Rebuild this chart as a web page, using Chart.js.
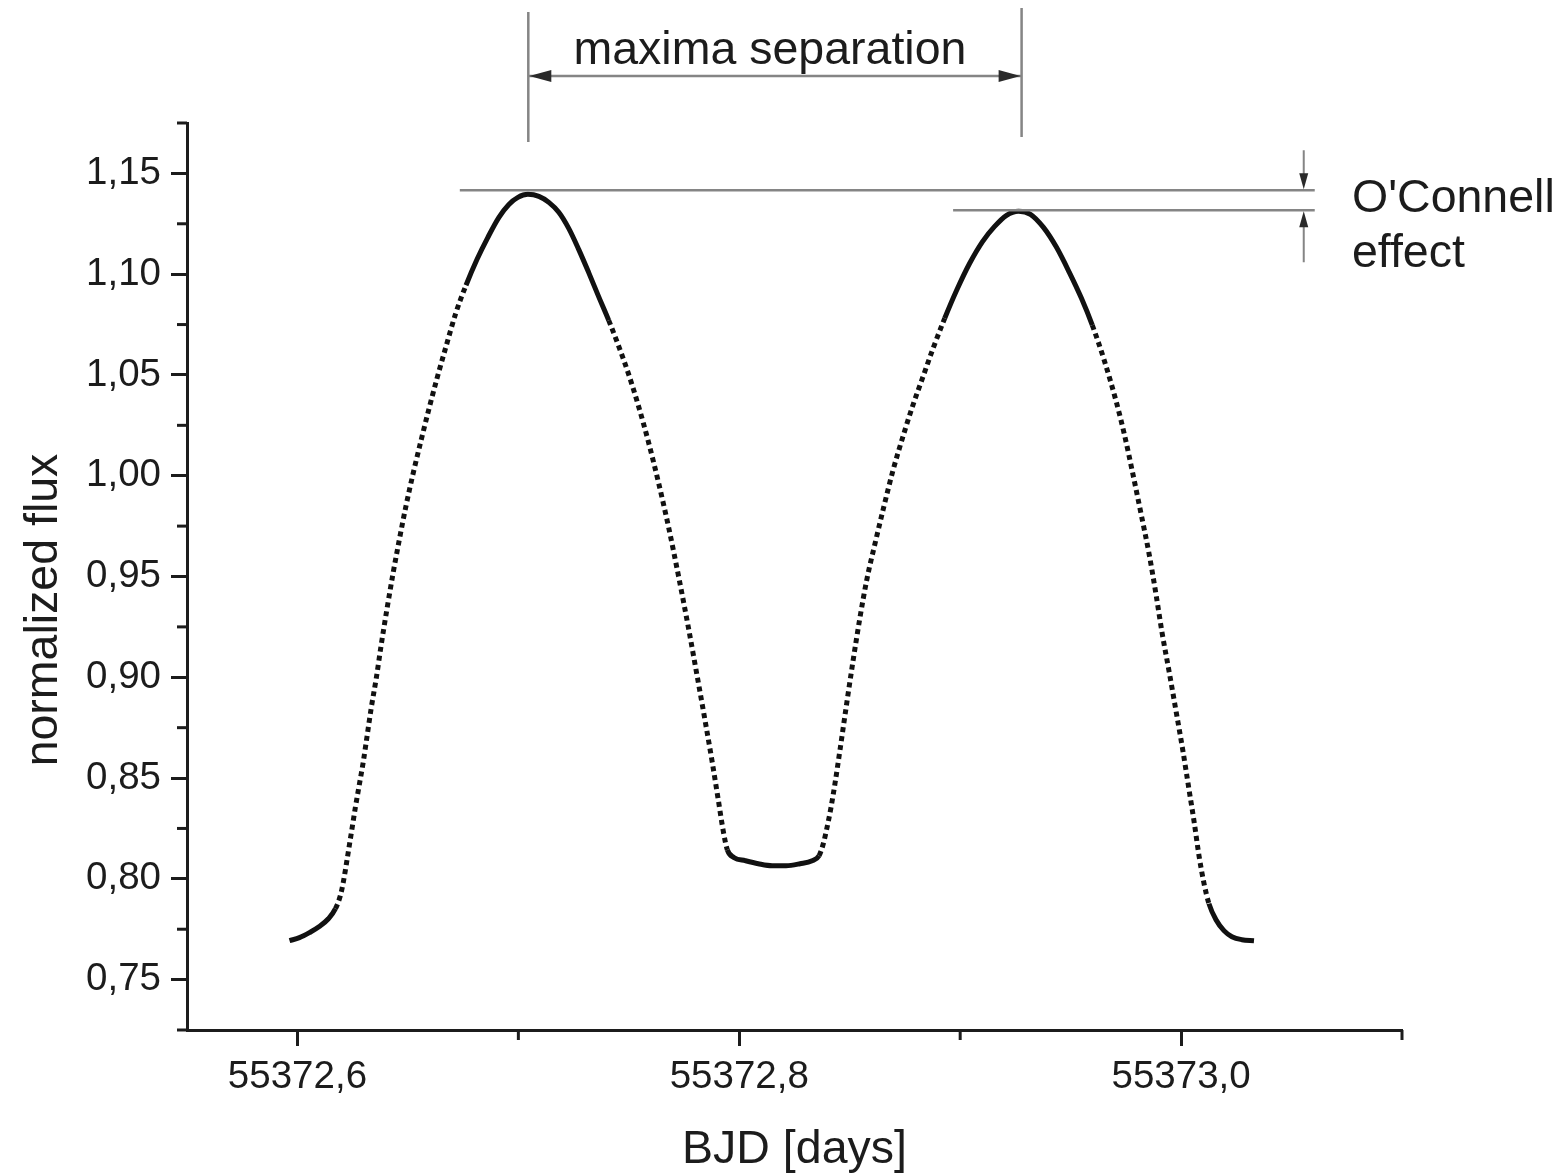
<!DOCTYPE html>
<html>
<head>
<meta charset="utf-8">
<script src="https://cdn.jsdelivr.net/npm/chart.js@4.4.1/dist/chart.umd.min.js"></script>
<style>
  body { margin: 0; background: #fff; }
  #wrap { width: 1563px; height: 1175px; }
</style>
</head>
<body>
<div id="wrap"><canvas id="grafica"></canvas></div>
<script>
// light curve: BJD [days] vs normalized flux
const bjd = [
  55372.5964, 55372.6009, 55372.6054, 55372.6099, 55372.6140, 55372.6172, 55372.6194, 55372.6208,
  55372.6226, 55372.6244, 55372.6262, 55372.6280, 55372.6298, 55372.6316, 55372.6334, 55372.6357,
  55372.6379, 55372.6406, 55372.6433, 55372.6460, 55372.6492, 55372.6524, 55372.6560, 55372.6596,
  55372.6632, 55372.6673, 55372.6718, 55372.6763, 55372.6813, 55372.6862, 55372.6912, 55372.6957,
  55372.6998, 55372.7043, 55372.7093, 55372.7138, 55372.7183, 55372.7228, 55372.7273, 55372.7318,
  55372.7363, 55372.7409, 55372.7454, 55372.7499, 55372.7544, 55372.7589, 55372.7634, 55372.7679,
  55372.7725, 55372.7770, 55372.7810, 55372.7847, 55372.7878, 55372.7905, 55372.7928, 55372.7946,
  55372.7977, 55372.8027, 55372.8086, 55372.8149, 55372.8212, 55372.8275, 55372.8330, 55372.8361,
  55372.8379, 55372.8397, 55372.8415, 55372.8433, 55372.8456, 55372.8488, 55372.8515, 55372.8546,
  55372.8578, 55372.8614, 55372.8655, 55372.8695, 55372.8740, 55372.8786, 55372.8831, 55372.8876,
  55372.8930, 55372.8984, 55372.9043, 55372.9102, 55372.9156, 55372.9210, 55372.9264, 55372.9318,
  55372.9377, 55372.9436, 55372.9494, 55372.9549, 55372.9598, 55372.9652, 55372.9707, 55372.9743,
  55372.9779, 55372.9819, 55372.9856, 55372.9887, 55372.9914, 55372.9946, 55372.9977, 55373.0009,
  55373.0036, 55373.0059, 55373.0081, 55373.0104, 55373.0126, 55373.0158, 55373.0194, 55373.0230,
  55373.0275, 55373.0330
];
const flux = [
  0.7693, 0.7708, 0.7733, 0.7763, 0.7802, 0.7852, 0.7916, 0.7986,
  0.8105, 0.8229, 0.8353, 0.8467, 0.8581, 0.8714, 0.8848, 0.8997,
  0.9160, 0.9344, 0.9517, 0.9676, 0.9854, 1.0013, 1.0177, 1.0335,
  1.0484, 1.0643, 1.0811, 1.0945, 1.1074, 1.1183, 1.1282, 1.1346,
  1.1381, 1.1396, 1.1386, 1.1356, 1.1307, 1.1227, 1.1123, 1.1009,
  1.0890, 1.0771, 1.0643, 1.0504, 1.0345, 1.0167, 0.9968, 0.9750,
  0.9502, 0.9245, 0.9002, 0.8774, 0.8576, 0.8392, 0.8234, 0.8144,
  0.8105, 0.8090, 0.8075, 0.8065, 0.8065, 0.8075, 0.8090, 0.8115,
  0.8169, 0.8253, 0.8353, 0.8471, 0.8640, 0.8883, 0.9081, 0.9294,
  0.9488, 0.9661, 0.9849, 1.0023, 1.0191, 1.0350, 1.0489, 1.0628,
  1.0781, 1.0920, 1.1054, 1.1163, 1.1237, 1.1292, 1.1312, 1.1297,
  1.1232, 1.1133, 1.1009, 1.0880, 1.0747, 1.0573, 1.0365, 1.0206,
  1.0023, 0.9810, 0.9607, 0.9408, 0.9220, 0.9027, 0.8833, 0.8630,
  0.8442, 0.8283, 0.8115, 0.7976, 0.7877, 0.7797, 0.7743, 0.7713,
  0.7698, 0.7693
];

// ticks
const xMajor = [55372.6, 55372.8, 55373.0];
const xMinor = [55372.7, 55372.9, 55373.1];
const yMajor = [0.75, 0.80, 0.85, 0.90, 0.95, 1.00, 1.05, 1.10, 1.15];
const yMinor = [0.725, 0.775, 0.825, 0.875, 0.925, 0.975, 1.025, 1.075, 1.125, 1.175];

// maxima (time, level) used by the annotations
const maximaBjd = [55372.7045, 55372.9278];
const maximaFlux = [1.1416, 1.1317];
const levelEndBjd = 55373.0605;

const FUENTE = '"Liberation Sans", Arial, sans-serif';
const TINTA = '#1c1c1c';
const GRIS = '#858585';

function coma(v, d) {
    return v.toFixed(d).replace('.', ',');
}

function flecha(ctx, tipX, tipY, dx, dy, largo, ancho) {
    // filled triangle pointing along (dx, dy)
    const bx = tipX - dx * largo, by = tipY - dy * largo;
    ctx.beginPath();
    ctx.moveTo(tipX, tipY);
    ctx.lineTo(bx - dy * ancho, by + dx * ancho);
    ctx.lineTo(bx + dy * ancho, by - dx * ancho);
    ctx.closePath();
    ctx.fill();
}

// ============================
// minor ticks, titles, arrows
// ============================

const extras = {
    id: 'extras',
    afterDraw(chart) {
        const { ctx, chartArea, scales: { x, y } } = chart;
        ctx.save();

        // minor ticks
        ctx.strokeStyle = TINTA;
        ctx.lineWidth = 3;
        xMinor.forEach(v => {
            const px = x.getPixelForValue(v);
            ctx.beginPath();
            ctx.moveTo(px, chartArea.bottom);
            ctx.lineTo(px, chartArea.bottom + 10);
            ctx.stroke();
        });
        yMinor.forEach(v => {
            const py = y.getPixelForValue(v);
            ctx.beginPath();
            ctx.moveTo(chartArea.left, py);
            ctx.lineTo(chartArea.left - 10, py);
            ctx.stroke();
        });

        // axis titles
        ctx.fillStyle = TINTA;
        ctx.font = '46.5px ' + FUENTE;
        ctx.textAlign = 'center';
        ctx.textBaseline = 'alphabetic';
        ctx.fillText('BJD [days]', (chartArea.left + chartArea.right) / 2, 1163);
        ctx.save();
        ctx.translate(57, 610);
        ctx.rotate(-Math.PI / 2);
        ctx.fillText('normalized flux', 0, 0);
        ctx.restore();

        // maxima separation
        const m1 = x.getPixelForValue(maximaBjd[0]);
        const m2 = x.getPixelForValue(maximaBjd[1]);
        ctx.strokeStyle = GRIS;
        ctx.lineWidth = 2.5;
        ctx.beginPath();
        ctx.moveTo(m1, 12); ctx.lineTo(m1, 142);
        ctx.moveTo(m2, 8); ctx.lineTo(m2, 137);
        ctx.moveTo(m1, 76); ctx.lineTo(m2, 76);
        ctx.stroke();
        ctx.fillStyle = '#2a2a2a';
        flecha(ctx, m1 + 1, 76, -1, 0, 22, 6);
        flecha(ctx, m2 - 1, 76, 1, 0, 22, 6);

        ctx.fillStyle = TINTA;
        ctx.fillText('maxima separation', (m1 + m2) / 2 - 5, 64);

        // levels of both maxima
        const xEnd = x.getPixelForValue(levelEndBjd);
        const l1 = y.getPixelForValue(maximaFlux[0]);
        const l2 = y.getPixelForValue(maximaFlux[1]);
        ctx.strokeStyle = GRIS;
        ctx.beginPath();
        ctx.moveTo(x.getPixelForValue(maximaBjd[0] - 0.031), l1); ctx.lineTo(xEnd, l1);
        ctx.moveTo(x.getPixelForValue(maximaBjd[1] - 0.031), l2); ctx.lineTo(xEnd, l2);
        ctx.stroke();

        // O'Connell arrows
        const ax = xEnd - 11;
        ctx.lineWidth = 2;
        ctx.beginPath();
        ctx.moveTo(ax, l1 - 40); ctx.lineTo(ax, l1 - 12);
        ctx.moveTo(ax, l2 + 12); ctx.lineTo(ax, l2 + 52);
        ctx.stroke();
        ctx.fillStyle = '#2a2a2a';
        flecha(ctx, ax, l1 - 1, 0, 1, 16, 4.5);
        flecha(ctx, ax, l2 + 1, 0, -1, 16, 4.5);

        ctx.fillStyle = TINTA;
        ctx.textAlign = 'left';
        ctx.fillText("O'Connell", 1352, 212);
        ctx.fillText('effect', 1352, 267);

        ctx.restore();
    }
};

// ============================
// CHART
// ============================

const puntos = bjd.map((t, i) => ({ x: t, y: flux[i] }));

const empinado = ctx =>
    Math.abs(ctx.p1.y - ctx.p0.y) > 2.5 * Math.abs(ctx.p1.x - ctx.p0.x) ? [5, 4] : undefined;

new Chart(document.getElementById('grafica'), {
    type: 'line',
    data: {
        datasets: [{
            data: puntos,
            borderColor: '#111',
            borderWidth: 5,
            pointRadius: 0,
            cubicInterpolationMode: 'monotone',
            borderCapStyle: 'butt',
            segment: { borderDash: empinado }
        }]
    },
    options: {
        responsive: true,
        maintainAspectRatio: false,
        animation: false,
        events: [],
        layout: { padding: { left: 67, top: 123, right: 161, bottom: 45 } },
        plugins: {
            legend: { display: false },
            tooltip: { enabled: false }
        },
        scales: {
            x: {
                type: 'linear',
                min: 55372.55,
                max: 55373.1,
                afterBuildTicks: s => { s.ticks = xMajor.map(v => ({ value: v })); },
                afterFit: s => { s.height = 100; },
                border: { display: true, color: TINTA, width: 3 },
                grid: { drawOnChartArea: false, tickLength: 16, tickWidth: 3, tickColor: TINTA },
                ticks: {
                    color: TINTA,
                    padding: 8,
                    maxRotation: 0,
                    font: { family: FUENTE, size: 38.5 },
                    callback: v => coma(v, 1)
                }
            },
            y: {
                min: 0.725,
                max: 1.175,
                afterBuildTicks: s => { s.ticks = yMajor.map(v => ({ value: v })); },
                afterFit: s => { s.width = 120; },
                border: { display: true, color: TINTA, width: 3 },
                grid: { drawOnChartArea: false, tickLength: 16, tickWidth: 3, tickColor: TINTA },
                ticks: {
                    color: TINTA,
                    padding: 10,
                    font: { family: FUENTE, size: 38.5 },
                    callback: v => coma(v, 2)
                }
            }
        }
    },
    plugins: [extras]
});
</script>
</body>
</html>
